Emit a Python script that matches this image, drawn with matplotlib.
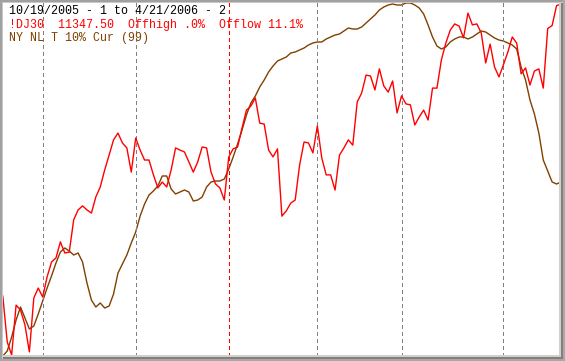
import matplotlib
matplotlib.use('Agg')
import matplotlib.pyplot as plt
import pandas as pd
from matplotlib.patches import Rectangle
from matplotlib.transforms import IdentityTransform


START = '2005-10-19'
END = '2006-04-21'
NYSE_HOLIDAYS = ['2005-11-24', '2005-12-26', '2006-01-02', '2006-01-16',
                 '2006-02-20', '2006-04-14']

# daily closes of the Dow
dj30 = [10405, 10257, 10215, 10376, 10360, 10312, 10225, 10399, 10431, 10402,
        10467, 10515, 10528, 10580, 10544, 10547, 10651, 10683, 10696, 10683,
        10673, 10725, 10757, 10812, 10860, 10909, 10931, 10899, 10883, 10805,
        10915, 10876, 10844, 10844, 10796, 10754, 10773, 10757, 10812, 10883,
        10876, 10870, 10838, 10805, 10838, 10886, 10883, 10805, 10767, 10754,
        10715, 10854, 10880, 10886, 10947, 11005, 11018, 11044, 10963, 10960,
        10876, 10854, 10880, 10663, 10680, 10705, 10715, 10828, 10902, 10899,
        10867, 10954, 10851, 10796, 10796, 10747, 10860, 10883, 10909, 10892,
        11031, 11060, 11118, 11115, 11070, 11138, 11083, 11063, 11099, 10996,
        11051, 11025, 11022, 10957, 10983, 11005, 10973, 11076, 11076, 11167,
        11221, 11263, 11283, 11276, 11238, 11318, 11280, 11283, 11254, 11157,
        11218, 11144, 11112, 11151, 11192, 11241, 11221, 11122, 11141, 11086,
        11131, 11138, 11076, 11268, 11278, 11342, 11347]

# NYSE new lows 10% trend (own scale)
nl_trend = [0, 5, 19, 36, 49, 38, 27, 30, 42, 55,
            68, 80, 93, 104, 108, 105, 101, 103, 94, 73,
            56, 49, 53, 48, 50, 62, 83, 92, 101, 113,
            124, 140, 152, 161, 165, 170, 180, 180, 167, 162,
            164, 166, 164, 155, 156, 159, 169, 174, 175, 175,
            177, 187, 199, 212, 226, 241, 253, 260, 269, 276,
            284, 290, 295, 297, 299, 303, 304, 306, 308, 311,
            313, 314, 314, 317, 319, 321, 322, 325, 328, 327,
            327, 329, 333, 337, 341, 346, 349, 351, 352, 351,
            351, 353, 353, 351, 348, 342, 331, 319, 310, 307,
            309, 314, 317, 319, 319, 317, 319, 322, 325, 324,
            321, 318, 316, 315, 313, 311, 307, 289, 276, 256,
            242, 223, 196, 185, 174, 172, 174]

header = '10/19/2005 - 1 to 4/21/2006 - 2'
dj_label = '!DJ30  11347.50  Offhigh .0%  Offlow 11.1%'
nl_label = 'NY NL T 10% Cur (99)'

RED = '#ff0000'
BROWN = '#804000'
GRAY = '#808080'

W, H = 565, 361

dates = pd.bdate_range(START, END, freq='C', holidays=NYSE_HOLIDAYS)
idx = list(range(len(dates)))

fig = plt.figure(figsize=(W / 100, H / 100), dpi=100)
fig.patch.set_facecolor('white')

# plot area in pixels: x 3..559, y 3..356 from the top
ax = fig.add_axes([3 / W, (H - 356) / H, 556 / W, 353 / H])
ax2 = ax.twinx()
for a in (ax, ax2):
    a.set_axis_off()
ax.set_zorder(2)
ax.patch.set_visible(False)

# month separators (first trading day of each month), year change in red
for i in range(1, len(dates)):
    if dates[i].month != dates[i - 1].month:
        col = RED if dates[i].year != dates[i - 1].year else GRAY
        ax.axvline(i, color=col, lw=0.72, linestyle=(0, (3, 3)),
                   antialiased=False, zorder=1)

ax2.plot(idx, nl_trend, color=BROWN, lw=1.0)
ax.plot(idx, dj30, color=RED, lw=1.0, zorder=3)

ax.set_xlim(0.045, 125.55)
ax2.set_xlim(0.045, 125.55)
ax.set_ylim(10211.8, 11350.5)
ax2.set_ylim(0, 353)

mono = 'Liberation Mono'
fig.text(9 / W, 1 - 11 / H, header, color='black', family=mono, fontsize=8.4, va='center')
fig.text(9 / W, 1 - 25 / H, dj_label, color=RED, family=mono, fontsize=8.4, va='center')
fig.text(9 / W, 1 - 38.5 / H, nl_label, color=BROWN, family=mono, fontsize=8.4, va='center')

# sunken window frame (pixel coords, origin bottom-left)
frame = [
    (0, H - 2, W, 2, '#a0a0a0'),
    (0, 0, 2, H, '#a0a0a0'),
    (2, H - 3, W - 2, 1, '#c8c8c8'),
    (2, 0, 1, H - 2, '#c8c8c8'),
    (559, 0, 2, H - 3, '#d4d0c8'),
    (3, 4, W - 3, 2, '#d4d0c8'),
    (561, 0, 2, H - 3, '#808080'),
    (3, 2, W - 3, 2, '#808080'),
    (563, 0, 2, H, '#a8a8a8'),
    (0, 0, W, 2, '#a8a8a8'),
]
for x, y, w, h, c in frame:
    fig.add_artist(Rectangle((x, y), w, h, transform=IdentityTransform(),
                             facecolor=c, edgecolor='none', zorder=10))

fig.savefig('out.png', dpi=100)
